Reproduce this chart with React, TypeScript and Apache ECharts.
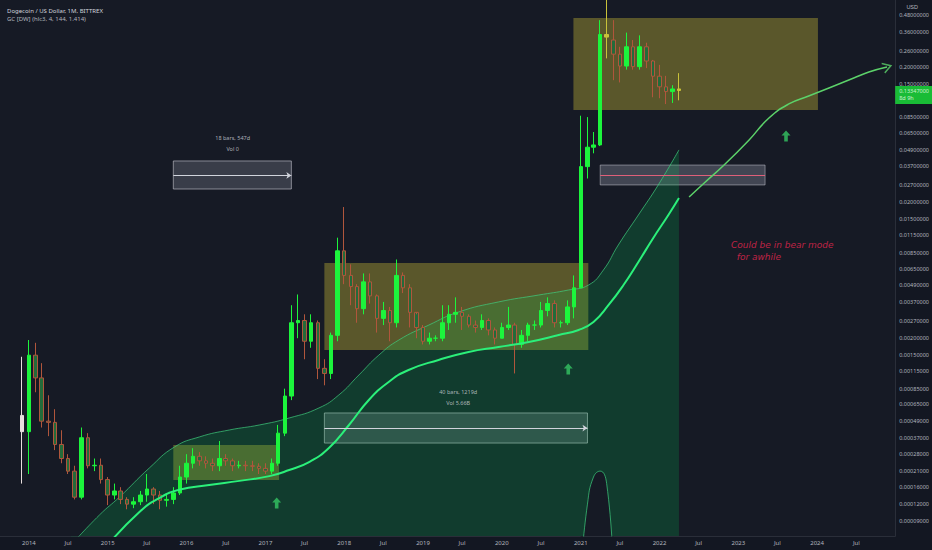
import React, { useEffect, useRef } from "react";
import * as echarts from "echarts";

// [date, open, close, low, high]
const candles: [string, number, number, number, number][] = [
  ["2013-12-01", 0.00054, 0.00041, 0.00017, 0.00146],
  ["2014-01-01", 0.00041, 0.0015, 0.0002, 0.00194],
  ["2014-02-01", 0.0015, 0.00102, 0.0008, 0.00185],
  ["2014-03-01", 0.00102, 0.00049, 0.00044, 0.00131],
  ["2014-04-01", 0.00049, 0.00048, 0.00038, 0.00076],
  ["2014-05-01", 0.00048, 0.00033, 0.0003, 0.0006],
  ["2014-06-01", 0.00033, 0.00026, 0.00024, 0.00042],
  ["2014-07-01", 0.00026, 0.00021, 0.0002, 0.00028],
  ["2014-08-01", 0.00021, 0.000135, 0.00013, 0.00023],
  ["2014-09-01", 0.000135, 0.00037, 0.00013, 0.00044],
  ["2014-10-01", 0.00037, 0.00023, 0.00022, 0.0004],
  ["2014-11-01", 0.00023, 0.000232, 0.00021, 0.00026],
  ["2014-12-01", 0.000232, 0.000182, 0.00017, 0.00026],
  ["2015-01-01", 0.000182, 0.00014, 0.000118, 0.00019],
  ["2015-02-01", 0.00014, 0.00015, 0.00013, 0.00017],
  ["2015-03-01", 0.00015, 0.00013, 0.00012, 0.00016],
  ["2015-04-01", 0.00013, 0.00012, 0.00011, 0.000135],
  ["2015-05-01", 0.00012, 0.000125, 0.000112, 0.000135],
  ["2015-06-01", 0.000125, 0.00014, 0.000118, 0.00015],
  ["2015-07-01", 0.00014, 0.000155, 0.000125, 0.0002],
  ["2015-08-01", 0.000155, 0.00014, 0.00012, 0.00016],
  ["2015-09-01", 0.00014, 0.000128, 0.00011, 0.00015],
  ["2015-10-01", 0.000128, 0.00013, 0.000115, 0.00014],
  ["2015-11-01", 0.00013, 0.000145, 0.00012, 0.00016],
  ["2015-12-01", 0.000145, 0.00019, 0.00014, 0.00023],
  ["2016-01-01", 0.00019, 0.00024, 0.00017, 0.00028],
  ["2016-02-01", 0.00024, 0.00027, 0.00022, 0.00031],
  ["2016-03-01", 0.00027, 0.00025, 0.00023, 0.00029],
  ["2016-04-01", 0.00025, 0.00024, 0.00022, 0.00027],
  ["2016-05-01", 0.00024, 0.00023, 0.00021, 0.00026],
  ["2016-06-01", 0.00023, 0.00026, 0.00021, 0.00035],
  ["2016-07-01", 0.00026, 0.00025, 0.00023, 0.00028],
  ["2016-08-01", 0.00025, 0.00023, 0.00021, 0.00026],
  ["2016-09-01", 0.00023, 0.000232, 0.00022, 0.00025],
  ["2016-10-01", 0.000232, 0.00023, 0.00021, 0.00025],
  ["2016-11-01", 0.00023, 0.000228, 0.00021, 0.00025],
  ["2016-12-01", 0.000228, 0.00022, 0.0002, 0.00024],
  ["2017-01-01", 0.00022, 0.00021, 0.0002, 0.00024],
  ["2017-02-01", 0.00021, 0.00024, 0.0002, 0.00026],
  ["2017-03-01", 0.00024, 0.0004, 0.00023, 0.00046],
  ["2017-04-01", 0.0004, 0.00075, 0.00038, 0.00085],
  ["2017-05-01", 0.00075, 0.0026, 0.0007, 0.0035],
  ["2017-06-01", 0.0026, 0.0027, 0.002, 0.0042],
  ["2017-07-01", 0.0027, 0.0019, 0.0014, 0.003],
  ["2017-08-01", 0.0019, 0.0026, 0.0017, 0.003],
  ["2017-09-01", 0.0026, 0.0012, 0.001, 0.0027],
  ["2017-10-01", 0.0012, 0.0011, 0.0009, 0.0014],
  ["2017-11-01", 0.0011, 0.0021, 0.001, 0.0022],
  ["2017-12-01", 0.0021, 0.0088, 0.0019, 0.011],
  ["2018-01-01", 0.0088, 0.0058, 0.005, 0.0185],
  ["2018-02-01", 0.0058, 0.0048, 0.0035, 0.007],
  ["2018-03-01", 0.0048, 0.0033, 0.0026, 0.005],
  ["2018-04-01", 0.0033, 0.0052, 0.003, 0.006],
  ["2018-05-01", 0.0052, 0.0041, 0.0036, 0.006],
  ["2018-06-01", 0.0041, 0.0028, 0.0022, 0.0042],
  ["2018-07-01", 0.0028, 0.0032, 0.0025, 0.0037],
  ["2018-08-01", 0.0032, 0.0026, 0.0019, 0.0034],
  ["2018-09-01", 0.0026, 0.0058, 0.0024, 0.0076],
  ["2018-10-01", 0.0058, 0.0047, 0.0043, 0.0061],
  ["2018-11-01", 0.0047, 0.0031, 0.0024, 0.005],
  ["2018-12-01", 0.0031, 0.0024, 0.002, 0.003],
  ["2019-01-01", 0.0024, 0.0019, 0.0018, 0.0025],
  ["2019-02-01", 0.0019, 0.002, 0.0018, 0.0022],
  ["2019-03-01", 0.002, 0.002, 0.0019, 0.0021],
  ["2019-04-01", 0.002, 0.0026, 0.0019, 0.0035],
  ["2019-05-01", 0.0026, 0.003, 0.0023, 0.0035],
  ["2019-06-01", 0.003, 0.0031, 0.0026, 0.004],
  ["2019-07-01", 0.0031, 0.0029, 0.0023, 0.0034],
  ["2019-08-01", 0.0029, 0.0025, 0.0024, 0.003],
  ["2019-09-01", 0.0025, 0.0024, 0.0022, 0.0027],
  ["2019-10-01", 0.0024, 0.0027, 0.0023, 0.003],
  ["2019-11-01", 0.0027, 0.0023, 0.0021, 0.0028],
  ["2019-12-01", 0.0023, 0.002, 0.0018, 0.0024],
  ["2020-01-01", 0.002, 0.0024, 0.002, 0.0026],
  ["2020-02-01", 0.0024, 0.0025, 0.0023, 0.0034],
  ["2020-03-01", 0.0025, 0.0018, 0.0011, 0.0026],
  ["2020-04-01", 0.0018, 0.0021, 0.0017, 0.0023],
  ["2020-05-01", 0.0021, 0.0025, 0.0019, 0.0026],
  ["2020-06-01", 0.0025, 0.0025, 0.0023, 0.0027],
  ["2020-07-01", 0.0025, 0.0032, 0.0024, 0.0037],
  ["2020-08-01", 0.0032, 0.0036, 0.0029, 0.004],
  ["2020-09-01", 0.0036, 0.0026, 0.0024, 0.0038],
  ["2020-10-01", 0.0026, 0.0026, 0.0024, 0.0027],
  ["2020-11-01", 0.0026, 0.0034, 0.0025, 0.0038],
  ["2020-12-01", 0.0034, 0.0047, 0.0028, 0.0058],
  ["2021-01-01", 0.0047, 0.0367, 0.0047, 0.087],
  ["2021-02-01", 0.0367, 0.051, 0.03, 0.085],
  ["2021-03-01", 0.051, 0.053, 0.046, 0.066],
  ["2021-04-01", 0.053, 0.345, 0.052, 0.44],
  ["2021-05-01", 0.345, 0.33, 0.23, 0.74],
  ["2021-06-01", 0.314, 0.247, 0.159, 0.44],
  ["2021-07-01", 0.247, 0.202, 0.153, 0.28],
  ["2021-08-01", 0.202, 0.28, 0.19, 0.356],
  ["2021-09-01", 0.28, 0.2, 0.19, 0.314],
  ["2021-10-01", 0.2, 0.28, 0.19, 0.34],
  ["2021-11-01", 0.28, 0.22, 0.195, 0.3],
  ["2021-12-01", 0.22, 0.17, 0.119, 0.224],
  ["2022-01-01", 0.17, 0.142, 0.117, 0.206],
  ["2022-02-01", 0.142, 0.131, 0.106, 0.171],
  ["2022-03-01", 0.131, 0.137, 0.108, 0.146],
  ["2022-04-01", 0.137, 0.13347, 0.113, 0.179],
];
// bars drawn in a special colour: [date, colour]
const specialBars: [string, string][] = [
  ["2013-12-01", "#e8dede"],
  ["2021-05-01", "#c9c23a"],
  ["2022-04-01", "#c9c23a"],
];

// Gaussian channel readings
const filterLine: [string, number][] = [
  ["2015-01-01", 0.00006], ["2015-05-28", 0.000105], ["2015-08-28", 0.000133],
  ["2015-11-28", 0.000153], ["2016-04-15", 0.000166], ["2016-09-02", 0.000178],
  ["2017-01-19", 0.000193], ["2017-04-21", 0.000214], ["2017-07-22", 0.000245],
  ["2017-10-22", 0.000311], ["2018-01-23", 0.000459], ["2018-04-25", 0.000702],
  ["2018-07-26", 0.000952], ["2018-10-26", 0.001167], ["2019-03-14", 0.001383],
  ["2019-07-31", 0.001584], ["2019-12-17", 0.001724], ["2020-05-05", 0.001876],
  ["2020-09-21", 0.002112], ["2020-12-22", 0.0023], ["2021-03-01", 0.002634],
  ["2021-05-10", 0.003513], ["2021-07-18", 0.00493], ["2021-09-25", 0.00729],
  ["2021-12-03", 0.01094], ["2022-02-11", 0.01616], ["2022-04-01", 0.02156],
];
const upperBand: [string, number][] = [
  ["2014-07-15", 0.00006], ["2014-11-24", 0.0000999], ["2015-02-25", 0.0001355],
  ["2015-07-13", 0.0002215], ["2015-11-06", 0.000316], ["2016-03-01", 0.000375],
  ["2016-07-18", 0.000422], ["2016-12-03", 0.000459], ["2017-04-21", 0.000517],
  ["2017-09-06", 0.000613], ["2017-12-07", 0.000764], ["2018-03-10", 0.001072],
  ["2018-06-10", 0.0015], ["2018-09-11", 0.00194], ["2019-01-28", 0.0025],
  ["2019-06-15", 0.00312], ["2019-12-17", 0.0037], ["2020-06-20", 0.00416],
  ["2020-11-05", 0.00453], ["2021-02-06", 0.00493], ["2021-04-16", 0.00636],
  ["2021-06-24", 0.00972], ["2021-09-25", 0.01616], ["2021-12-26", 0.0269],
  ["2022-04-01", 0.0487],
];
const lowerBandArch: [string, number][] = [
  ["2021-01-01", 0.00004], ["2021-02-01", 0.00012], ["2021-03-01", 0.00019],
  ["2021-04-01", 0.00021], ["2021-05-01", 0.00017], ["2021-06-01", 0.00004],
];
const projectionCurve: [string, number][] = [
  ["2022-05-18", 0.0219], ["2022-07-27", 0.0278], ["2022-10-27", 0.0377],
  ["2023-02-20", 0.0577], ["2023-05-23", 0.0837], ["2023-08-23", 0.1062],
  ["2023-11-23", 0.1215], ["2024-02-25", 0.1392], ["2024-06-19", 0.1649],
  ["2024-08-28", 0.1826], ["2024-11-20", 0.1988],
];

const priceTicks = [
  0.48, 0.36, 0.26, 0.2, 0.15, 0.085, 0.065, 0.049, 0.037, 0.027, 0.02, 0.015,
  0.0115, 0.0085, 0.0065, 0.0049, 0.0037, 0.0027, 0.002, 0.0015, 0.00115,
  0.00085, 0.00065, 0.00049, 0.00037, 0.00028, 0.00021, 0.00016, 0.00012,
  0.00009, 0.000067,
];
const timeTicks = [
  "2014-01-01", "2014-07-01", "2015-01-01", "2015-07-01", "2016-01-01", "2016-07-01",
  "2017-01-01", "2017-07-01", "2018-01-01", "2018-07-01", "2019-01-01", "2019-07-01",
  "2020-01-01", "2020-07-01", "2021-01-01", "2021-07-01", "2022-01-01", "2022-07-01",
  "2023-01-01", "2023-07-01", "2024-01-01", "2024-07-01",
];

// rectangles: [start, end, low, high]
const oliveRects: [string, string, number, number][] = [
  ["2015-11-01", "2017-03-05", 0.000181, 0.000327],
  ["2017-10-01", "2021-02-05", 0.001638, 0.00716],
  ["2020-11-28", "2024-01-05", 0.0959, 0.456],
];
const rangeBoxes: [string, string, number, number, number][] = [
  ["2015-11-01", "2017-05-01", 0.0251, 0.0404, 0.0316],
  ["2017-10-01", "2021-02-01", 0.000338, 0.000563, 0.000436],
];
const rangeLabels: [string, number, string][] = [
  ["2016-08-02", 0.0539, "18 bars, 547d\nVol 0"],
  ["2019-06-13", 0.000738, "40 bars, 1219d\nVol 5.66B"],
];
const levelBox: [string, string, number, number, number] = ["2021-04-01", "2023-05-05", 0.0269, 0.0377, 0.0318];
const upArrows: [string, number][] = [
  ["2017-02-22", 0.0001224], ["2020-11-04", 0.001187], ["2023-08-10", 0.0617],
];
const noteText: [string, number, string] = ["2022-11-05", 0.0088, "Could be in bear mode\n  for awhile"];
const lastPrice = 0.13347;
const lastPriceLabel = ["0.13347000", "8d 9h"];

const t = (d: string) => new Date(d + "T00:00:00Z").getTime();
const X_MIN = t("2013-08-20");
const X_MAX = t("2024-12-28");

export default function App() {
  const ref = useRef<HTMLDivElement>(null);
  useEffect(() => {
    if (!ref.current) return;
    const chart = echarts.init(ref.current, null, { renderer: "svg" });
    const upColor = "#1cf53c";
    const downFill = "#236b3a";
    const downBorder = "#b0563c";
    const special = new Map(specialBars);
    const candleData = candles.map((c) => {
      const item: any = { value: [t(c[0]), c[1], c[2], c[3], c[4]] };
      const col = special.get(c[0]);
      if (col) item.itemStyle = { color0: col, borderColor0: col, color: col, borderColor: col };
      return item;
    });
    const lastProj = projectionCurve[projectionCurve.length - 1];
    const option: any = {
      animation: false,
      backgroundColor: "#131722",
      textStyle: { fontFamily: "Noto Sans" },
      title: {
        text: "Dogecoin / US Dollar, 1M, BITTREX",
        subtext: "GC [DW] (hlc3, 4, 144, 1.414)",
        left: 2,
        top: 3,
        itemGap: 2,
        textStyle: { color: "#d1d4dc", fontSize: 6, fontWeight: "normal" },
        subtextStyle: { color: "#b2b5be", fontSize: 6 },
      },
      grid: { left: 0, right: 36, top: 0, bottom: 14, show: true, backgroundColor: "#161a25", borderWidth: 0 },
      xAxis: {
        type: "value",
        min: X_MIN,
        max: X_MAX,
        axisLine: { show: true, lineStyle: { color: "#2a2e39" } },
        axisTick: { show: false },
        splitLine: { show: false },
        axisLabel: {
          customValues: timeTicks.map(t),
          formatter: (v: number) => {
            const d = new Date(v);
            return d.getUTCMonth() === 0 ? String(d.getUTCFullYear()) : "Jul";
          },
          color: "#b2b5be",
          fontSize: 6,
          margin: 4,
        },
      },
      yAxis: {
        type: "log",
        logBase: 10,
        min: 0.0000699,
        max: 0.619,
        position: "right",
        axisLine: { show: true, lineStyle: { color: "#2a2e39" } },
        axisTick: { show: false },
        splitLine: { show: false },
        axisLabel: {
          customValues: priceTicks,
          formatter: (v: number) => Number(v).toFixed(8),
          color: "#b2b5be",
          fontSize: 5.5,
          margin: 4,
        },
      },
      series: [
        {
          type: "line",
          name: "upper",
          data: upperBand.map((p) => [t(p[0]), p[1]]),
          smooth: true,
          showSymbol: false,
          lineStyle: { color: "#3fcf7f", width: 1, opacity: 0.7 },
          areaStyle: { color: "rgba(0,205,85,0.27)", origin: "start" },
          z: 1,
        },
        {
          type: "line",
          name: "lower",
          data: lowerBandArch.map((p) => [t(p[0]), p[1]]),
          smooth: true,
          showSymbol: false,
          lineStyle: { color: "#3fcf7f", width: 1, opacity: 0.7 },
          areaStyle: { color: "#161a25", opacity: 1, origin: "start" },
          z: 1,
        },
        {
          type: "candlestick",
          name: "DOGE",
          data: candleData,
          encode: { x: 0, y: [1, 2, 3, 4] },
          barWidth: 4,
          itemStyle: { color: upColor, color0: downFill, borderColor: upColor, borderColor0: downBorder, borderWidth: 1 },
          z: 2,
        },
        {
          type: "line",
          name: "filter",
          data: filterLine.map((p) => [t(p[0]), p[1]]),
          smooth: true,
          showSymbol: false,
          lineStyle: { color: "#2bf07a", width: 2 },
          z: 3,
        },
        {
          type: "line",
          name: "drawings",
          data: [],
          z: 4,
          markArea: {
            silent: true,
            data: [
              ...oliveRects.map((r) => [
                { xAxis: t(r[0]), yAxis: r[3], itemStyle: { color: "rgba(250,230,60,0.3)" } },
                { xAxis: t(r[1]), yAxis: r[2] },
              ]),
              ...rangeBoxes.map((r) => [
                { xAxis: t(r[0]), yAxis: r[3], itemStyle: { color: "rgba(150,155,170,0.28)", borderColor: "rgba(200,200,210,0.6)", borderWidth: 1 } },
                { xAxis: t(r[1]), yAxis: r[2] },
              ]),
              [
                { xAxis: t(levelBox[0]), yAxis: levelBox[3], itemStyle: { color: "rgba(150,155,170,0.35)", borderColor: "rgba(200,200,210,0.5)", borderWidth: 1 } },
                { xAxis: t(levelBox[1]), yAxis: levelBox[2] },
              ],
            ],
          },
          markLine: {
            silent: true,
            symbol: ["none", "arrow"],
            symbolSize: 5,
            lineStyle: { color: "#d1d4dc", width: 1, type: "solid" },
            label: { show: false },
            data: [
              ...rangeBoxes.map((r) => [
                { coord: [t(r[0]), r[4]] },
                { coord: [t(r[1]), r[4]] },
              ]),
              [
                { coord: [t(levelBox[0]), levelBox[4]], lineStyle: { color: "#e0607a" }, symbol: "none" },
                { coord: [t(levelBox[1]), levelBox[4]], symbol: "none" },
              ],
            ],
          },
        },
        {
          type: "scatter",
          name: "rangeLabels",
          data: rangeLabels.map((l) => ({ value: [t(l[0]), l[1]], label: { formatter: l[2] } })),
          symbolSize: 0,
          z: 5,
          label: { show: true, position: "inside", color: "#d1d4dc", fontSize: 5.5, lineHeight: 11 },
        },
        {
          type: "scatter",
          name: "arrows",
          data: upArrows.map((a) => [t(a[0]), a[1]]),
          symbol: "path://M5,0 L10,5 L7,5 L7,11 L3,11 L3,5 L0,5 Z",
          symbolSize: [9, 11],
          itemStyle: { color: "#34c463" },
          z: 5,
        },
        {
          type: "line",
          name: "projection",
          data: projectionCurve.map((p) => [t(p[0]), p[1]]),
          smooth: true,
          showSymbol: false,
          lineStyle: { color: "#5cd26a", width: 1.5 },
          z: 5,
        },
        {
          type: "scatter",
          name: "projectionHead",
          data: [[t(lastProj[0]), lastProj[1]]],
          symbol: "path://M0,0 L10,6 L0,12",
          symbolSize: [8, 10],
          symbolRotate: 18,
          clip: false,
          itemStyle: { color: "none", borderColor: "#5cd26a", borderWidth: 1.5 },
          z: 5,
        },
        {
          type: "scatter",
          name: "note",
          data: [{ value: [t(noteText[0]), noteText[1]] }],
          symbolSize: 0,
          z: 5,
          label: {
            show: true,
            position: "right",
            formatter: noteText[2],
            color: "#e8264f",
            fontSize: 9,
            fontStyle: "italic",
            fontFamily: "DejaVu Sans",
            lineHeight: 12,
          },
        },
        {
          type: "scatter",
          name: "lastPrice",
          data: [[X_MAX, lastPrice]],
          symbolSize: 0,
          clip: false,
          z: 6,
          label: {
            show: true,
            position: "right",
            distance: 0,
            offset: [0, 4.5],
            formatter: lastPriceLabel.join("\n"),
            backgroundColor: "#1ce63c",
            color: "#f2fff2",
            fontSize: 5.5,
            lineHeight: 7,
            padding: [2, 4, 2, 4],
            align: "left",
          },
        },
      ],
      graphic: [
        { type: "text", right: 14, top: 4, style: { text: "USD", fill: "#b2b5be", fontSize: 5.5 } },
      ],
    };
    chart.setOption(option);
    return () => chart.dispose();
  }, []);
  return <div ref={ref} style={{ position: "fixed", left: 0, top: 0, width: 932, height: 550 }} />;
}
